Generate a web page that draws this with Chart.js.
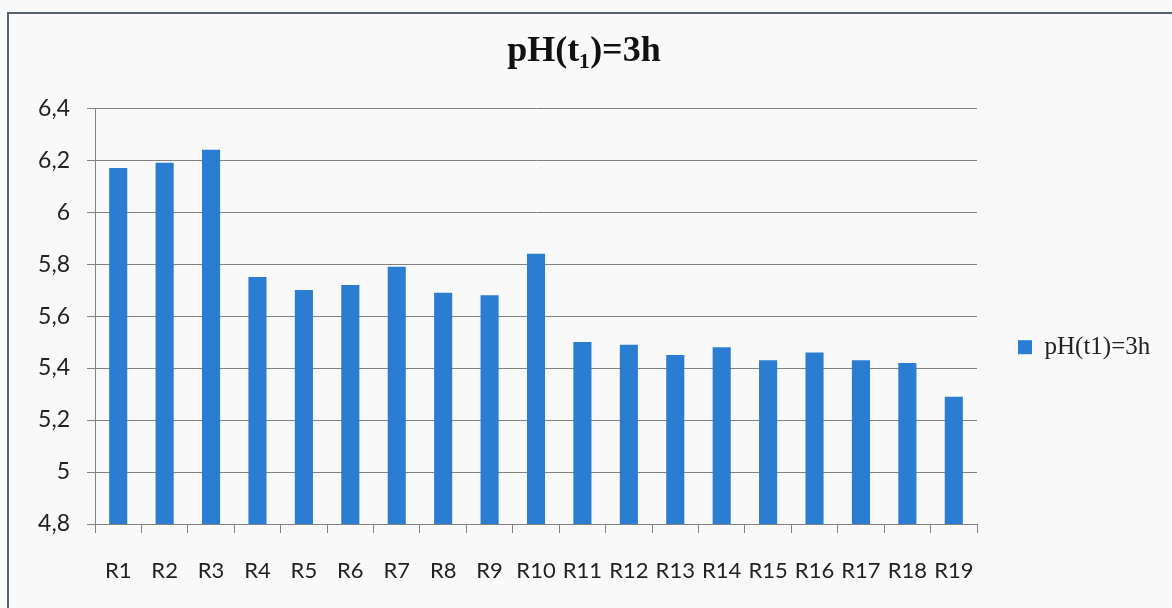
<!DOCTYPE html>
<html lang="en">
<head>
    <meta charset="UTF-8">
    <title>pH(t1)=3h</title>
    <script src="https://cdn.jsdelivr.net/npm/chart.js"></script>
    <style>
        body { margin: 0; background: #f9f9f9; overflow: hidden; }
        #frame { position: absolute; left: 7px; top: 12px; width: 1300px; height: 700px;
                 border-left: 2px solid #56626e; border-top: 2px solid #56626e; }
        #wrap { position: absolute; left: 0; top: 0; width: 1172px; height: 608px; }
    </style>
</head>
<body>
    <div id="frame"></div>
    <div id="wrap"><canvas id="chart"></canvas></div>
    <script>
        // values
        const labels = ['R1','R2','R3','R4','R5','R6','R7','R8','R9','R10',
                        'R11','R12','R13','R14','R15','R16','R17','R18','R19'];
        const phValues = [6.17, 6.19, 6.24, 5.75, 5.70, 5.72, 5.79, 5.69, 5.68, 5.84,
                          5.50, 5.49, 5.45, 5.48, 5.43, 5.46, 5.43, 5.42, 5.29];
        const seriesName = 'pH(t1)=3h';
        const titleText = 'pH(t\u2081)=3h';
        const yMin = 4.8, yMax = 6.4, yStep = 0.2;

        const gridColor = '#828282';
        const tickFont = { family: 'Lato', size: 22 };

        new Chart(document.getElementById('chart'), {
            type: 'bar',
            data: {
                labels: labels,
                datasets: [{
                    label: seriesName,
                    data: phValues,
                    backgroundColor: '#2a7dd1',
                    borderWidth: 0,
                    barPercentage: 0.39,
                    categoryPercentage: 1
                }]
            },
            options: {
                responsive: true,
                maintainAspectRatio: false,
                animation: false,
                layout: { padding: { left: 12, top: 0, right: 16, bottom: 0 } },
                plugins: {
                    tooltip: { enabled: false },
                    title: {
                        display: true,
                        text: titleText,
                        color: '#111',
                        font: { family: 'Liberation Serif', size: 36, weight: 'bold', lineHeight: 1.2 },
                        padding: { top: 30, bottom: 35 }
                    },
                    legend: {
                        position: 'right',
                        fullSize: true,
                        maxWidth: 179,
                        title: { display: true, text: ' ', padding: { top: 0, bottom: 60 },
                                 font: { size: 22, lineHeight: 1.2 } },
                        labels: {
                            boxWidth: 14,
                            boxHeight: 14,
                            padding: 41,
                            color: '#222',
                            font: { family: 'Liberation Serif', size: 25 }
                        }
                    }
                },
                scales: {
                    x: {
                        grid: { drawOnChartArea: false, drawTicks: true, tickLength: 9, color: gridColor },
                        border: { color: gridColor },
                        ticks: { color: '#222', font: tickFont, padding: 25, maxRotation: 0, autoSkip: false },
                        afterFit: function (scale) { scale.height = 84; }
                    },
                    y: {
                        min: yMin,
                        max: yMax,
                        grid: { color: gridColor, tickLength: 8 },
                        border: { color: gridColor },
                        ticks: {
                            stepSize: yStep,
                            color: '#222',
                            font: { family: 'Lato', size: 23 },
                            padding: 17,
                            callback: function (v) {
                                return String(Number(v.toFixed(1))).replace('.', ',');
                            }
                        },
                        afterFit: function (scale) { scale.width = 83; }
                    }
                }
            }
        });
    </script>
</body>
</html>
